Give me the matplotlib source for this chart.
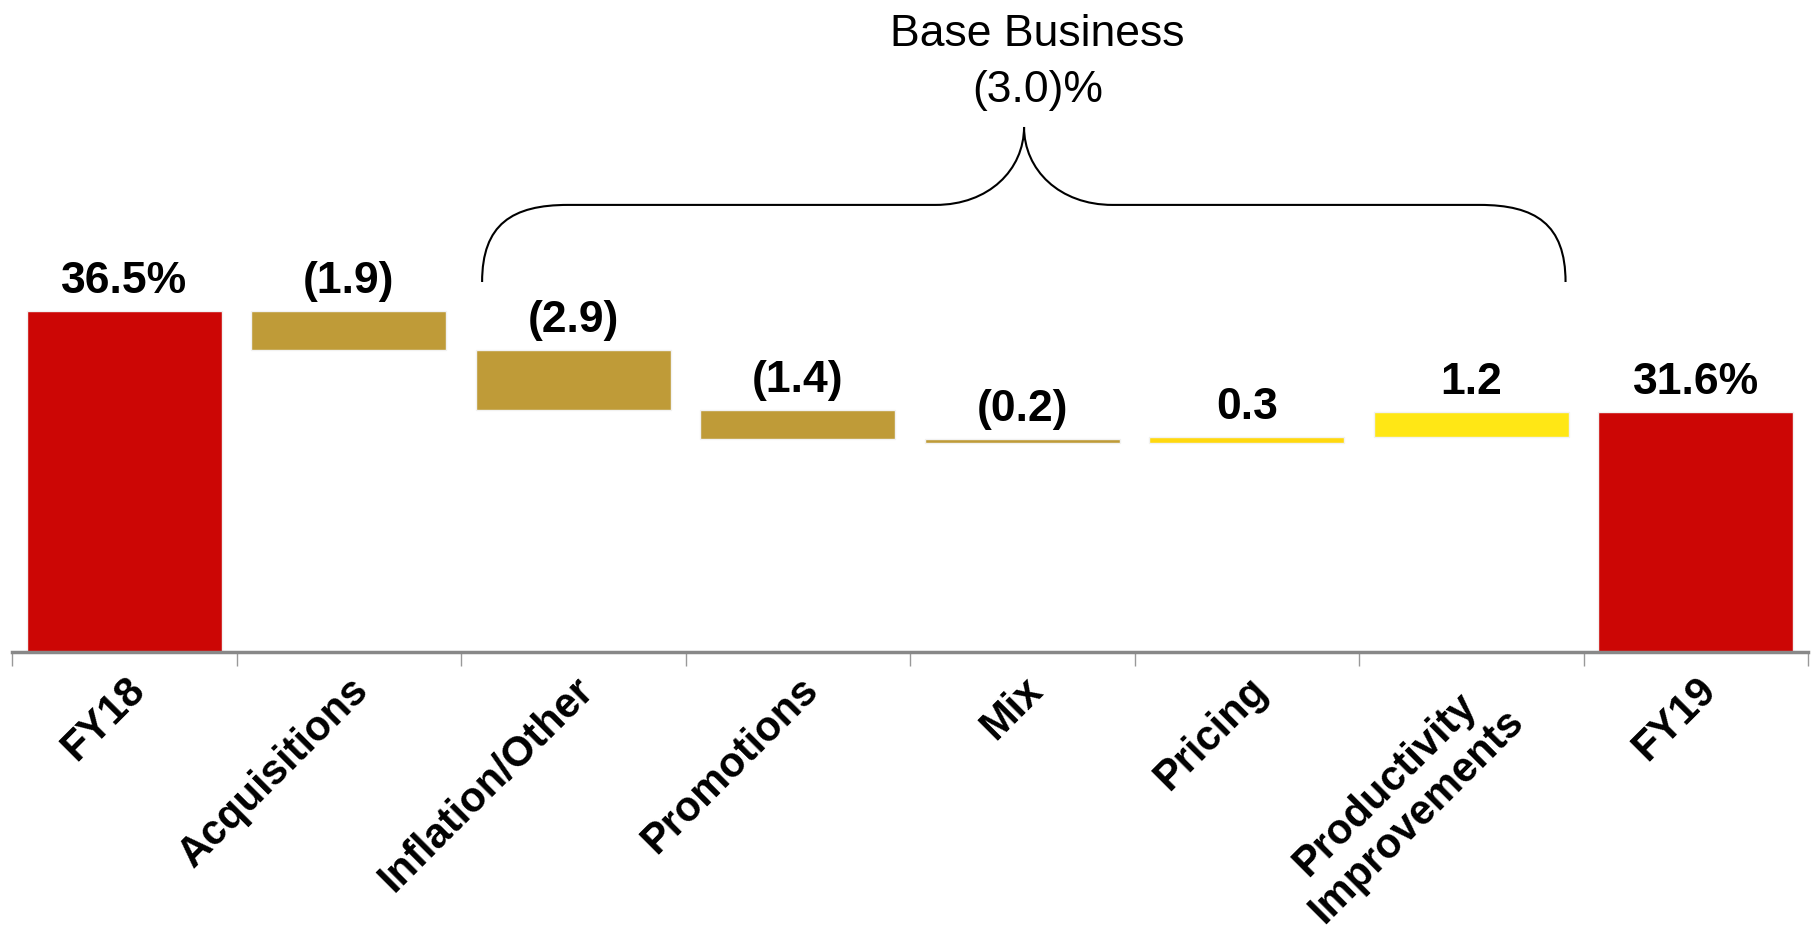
import matplotlib.pyplot as plt
import numpy as np
from matplotlib.path import Path
from matplotlib.patches import PathPatch

plt.rcParams['font.family'] = ['Liberation Sans', 'DejaVu Sans']

categories = ['FY18', 'Acquisitions', 'Inflation/Other', 'Promotions', 'Mix',
              'Pricing', 'Productivity\nImprovements', 'FY19']
values = [36.5, -1.9, -2.9, -1.4, -0.2, 0.3, 1.2, 31.6]
labels = ['36.5%', '(1.9)', '(2.9)', '(1.4)', '(0.2)', '0.3', '1.2', '31.6%']
colors = ['#cc0605', '#bf9b38', '#bf9b38', '#bf9b38', '#bf9b38',
          '#ffd80f', '#ffe715', '#cc0605']
brace_title = 'Base Business'
brace_value = '(3.0)%'

ymin = 20
ymax = 20 + 653 / 20.67

# waterfall bottoms / heights
bottoms = []
heights = []
level = 0
for i, v in enumerate(values):
    if i == 0 or i == len(values) - 1:
        bottoms.append(ymin)
        heights.append(v - ymin)
        level = v
    else:
        new = level + v
        bottoms.append(min(level, new))
        heights.append(abs(v))
        level = new
tops = [b + h for b, h in zip(bottoms, heights)]

fig = plt.figure(figsize=(18.12, 9.28), dpi=100)
ax = fig.add_axes([12/1812, 1 - 653/928, 1796/1812, 653/928])

x = np.arange(len(categories))
ax.bar(x, heights, bottom=bottoms, width=0.87, color=colors,
       edgecolor='#f2f2f2', linewidth=1, zorder=2)

for xi, t, lab in zip(x, tops, labels):
    ax.annotate(lab, (xi, t), xytext=(0, 14), textcoords='offset points',
                ha='center', va='baseline', fontsize=32, fontweight='bold')

ax.set_xlim(-0.5, len(categories) - 0.5)
ax.set_ylim(ymin, ymax)

for s in ['top', 'right', 'left']:
    ax.spines[s].set_visible(False)
ax.spines['bottom'].set_color('#888888')
ax.spines['bottom'].set_linewidth(2.5)
ax.spines['bottom'].set_zorder(3)
ax.set_yticks([])

ax.set_xticks(x)
ax.set_xticklabels(categories, rotation=45, ha='right', va='top',
                   rotation_mode='anchor', fontsize=30, fontweight='bold',
                   multialignment='center', linespacing=1.15)
ax.tick_params(axis='x', which='major', length=0, pad=12)
ax.set_xticks(np.arange(-0.5, len(categories)), minor=True)
ax.tick_params(axis='x', which='minor', length=10, width=1, color='#999999')

# curly brace over base business items
xl, xc, xr = 1.594, 4.008, 6.42
yb, yh, yt = 37.9, 41.63, 45.4
c1 = 0.383
c2 = 0.394
verts = [
    (xl, yb), (xl, yb + 0.75 * (yh - yb)), (xl + 0.35 * c1, yh), (xl + c1, yh),
    (xc - c2, yh),
    (xc - c2 + 0.6 * c2, yh), (xc, yh + 0.45 * (yt - yh)), (xc, yt),
    (xc, yh + 0.45 * (yt - yh)), (xc + 0.4 * c2, yh), (xc + c2, yh),
    (xr - c1, yh),
    (xr - 0.35 * c1, yh), (xr, yb + 0.75 * (yh - yb)), (xr, yb),
]
codes = [Path.MOVETO, Path.CURVE4, Path.CURVE4, Path.CURVE4,
         Path.LINETO,
         Path.CURVE4, Path.CURVE4, Path.CURVE4,
         Path.CURVE4, Path.CURVE4, Path.CURVE4,
         Path.LINETO,
         Path.CURVE4, Path.CURVE4, Path.CURVE4]
ax.add_patch(PathPatch(Path(verts, codes), facecolor='none',
                       edgecolor='black', linewidth=1.5, clip_on=False))

ax.text(xc + 0.06, 49.37, brace_title, ha='center', va='baseline', fontsize=32)
ax.text(xc + 0.06, 46.67, brace_value, ha='center', va='baseline', fontsize=32)

fig.savefig('out.png', dpi=100)
